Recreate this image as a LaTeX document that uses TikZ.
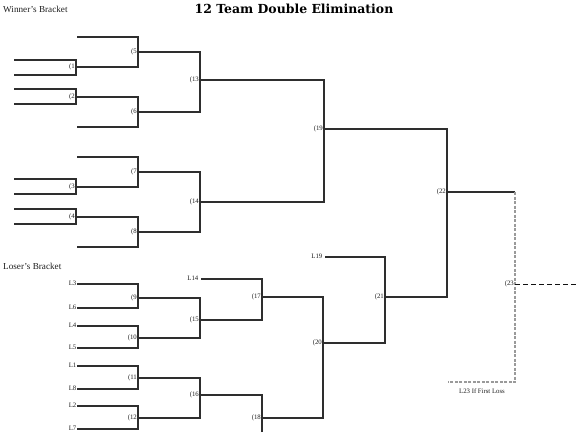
\documentclass[tikz,border=0pt]{standalone}
\usepackage{fontspec}
\usepackage{xcolor}
\setmainfont{Liberation Serif}
\newfontfamily\titleFont{DejaVu Serif}
\definecolor{lineColor}{HTML}{2E2E2E}
\definecolor{dashColor}{HTML}{9A9A9A}
\definecolor{finalColor}{HTML}{111111}
\definecolor{labelTextColor}{HTML}{1E1E1E}
\def\textTitle{12 Team Double Elimination}
\def\textWinners{Winner's Bracket}
\def\textLosers{Loser's Bracket}
\def\textFirstLoss{L23 If First Loss}
\tikzset{
  bracketLine/.style={color=lineColor, line width=1.2bp},
  dashLine/.style={color=dashColor, line width=1.2bp, dash pattern=on 3bp off 1.5bp},
  finalLine/.style={color=finalColor, line width=0.9bp, dash pattern=on 5bp off 3bp},
  gameLabel/.style={anchor=east, inner sep=0pt, xshift=-1bp, text=labelTextColor,
    font=\fontsize{6.8}{7}\selectfont},
  seedLabel/.style={anchor=east, inner sep=0pt, xshift=-0.5bp, yshift=1bp, text=labelTextColor,
    font=\fontsize{6.8}{7}\selectfont},
  headLabel/.style={anchor=west, inner sep=0pt, text=labelTextColor,
    font=\fontsize{9.2}{10}\selectfont},
}

\begin{document}
\begin{tikzpicture}[x=1bp,y=-1bp]
\useasboundingbox (0,0) rectangle (585,432);

% game points
\begin{scope}
\coordinate (g1) at (76, 67);
\coordinate (g2) at (76, 97);
\coordinate (g3) at (76, 187);
\coordinate (g4) at (76, 217);
\coordinate (g5) at (138, 52);
\coordinate (g6) at (138, 112);
\coordinate (g7) at (138, 172);
\coordinate (g8) at (138, 232);
\coordinate (g9) at (138, 298);
\coordinate (g10) at (138, 338);
\coordinate (g11) at (138, 378);
\coordinate (g12) at (138, 418);
\coordinate (g13) at (200, 80);
\coordinate (g14) at (200, 202);
\coordinate (g15) at (200, 320);
\coordinate (g16) at (200, 395);
\coordinate (g17) at (262, 297);
\coordinate (g18) at (262, 418);
\coordinate (g19) at (324, 129);
\coordinate (g20) at (323, 343);
\coordinate (g21) at (385, 297);
\coordinate (g22) at (447, 192);
\coordinate (g23) at (515, 284);
\end{scope}

% open ends
\begin{scope}
\coordinate (w1a) at (14, 60);
\coordinate (w1b) at (14, 75);
\coordinate (w2a) at (14, 89);
\coordinate (w2b) at (14, 104);
\coordinate (w3a) at (14, 179);
\coordinate (w3b) at (14, 194);
\coordinate (w4a) at (14, 209);
\coordinate (w4b) at (14, 224);
\coordinate (w5) at (77, 37);
\coordinate (w6) at (77, 127);
\coordinate (w7) at (77, 157);
\coordinate (w8) at (77, 247);
\coordinate (sL3) at (77, 284);
\coordinate (sL6) at (77, 308);
\coordinate (sL4) at (77, 326);
\coordinate (sL5) at (77, 348);
\coordinate (sL1) at (77, 366);
\coordinate (sL8) at (77, 389);
\coordinate (sL2) at (77, 406);
\coordinate (sL7) at (77, 429);
\coordinate (sL14) at (201, 279);
\coordinate (sL19) at (325, 257);
\coordinate (b18) at (262, 432);
\coordinate (c22) at (515, 192);
\coordinate (l23) at (448, 382);
\coordinate (w23) at (578, 284);
\end{scope}

% winner's bracket layer
\begin{scope}
\draw[bracketLine] (w1a) -| (g1);
\draw[bracketLine] (w1b) -| (g1);
\draw[bracketLine] (w2a) -| (g2);
\draw[bracketLine] (w2b) -| (g2);
\draw[bracketLine] (w3a) -| (g3);
\draw[bracketLine] (w3b) -| (g3);
\draw[bracketLine] (w4a) -| (g4);
\draw[bracketLine] (w4b) -| (g4);
\draw[bracketLine] (w5) -| (g5);
\draw[bracketLine] (g1) -| (g5);
\draw[bracketLine] (g2) -| (g6);
\draw[bracketLine] (w6) -| (g6);
\draw[bracketLine] (w7) -| (g7);
\draw[bracketLine] (g3) -| (g7);
\draw[bracketLine] (g4) -| (g8);
\draw[bracketLine] (w8) -| (g8);
\draw[bracketLine] (g5) -| (g13);
\draw[bracketLine] (g6) -| (g13);
\draw[bracketLine] (g7) -| (g14);
\draw[bracketLine] (g8) -| (g14);
\draw[bracketLine] (g13) -| (g19);
\draw[bracketLine] (g14) -| (g19);
\draw[bracketLine] (g19) -| (g22);
\draw[bracketLine] (g21) -| (g22);
\draw[bracketLine] (g22) -- (c22);
\end{scope}

% loser's bracket layer
\begin{scope}
\draw[bracketLine] (sL3) -| (g9);
\draw[bracketLine] (sL6) -| (g9);
\draw[bracketLine] (sL4) -| (g10);
\draw[bracketLine] (sL5) -| (g10);
\draw[bracketLine] (sL1) -| (g11);
\draw[bracketLine] (sL8) -| (g11);
\draw[bracketLine] (sL2) -| (g12);
\draw[bracketLine] (sL7) -| (g12);
\draw[bracketLine] (g9) -| (g15);
\draw[bracketLine] (g10) -| (g15);
\draw[bracketLine] (g11) -| (g16);
\draw[bracketLine] (g12) -| (g16);
\draw[bracketLine] (sL14) -| (g17);
\draw[bracketLine] (g15) -| (g17);
\draw[bracketLine] (g16) -| (g18);
\draw[bracketLine] (b18) -- (g18);
\draw[bracketLine] (g17) -| (g20);
\draw[bracketLine] (g18) -| (g20);
\draw[bracketLine] (sL19) -| (g21);
\draw[bracketLine] (g20) -| (g21);
\end{scope}

% final layer
\begin{scope}
\draw[dashLine] (c22) |- (l23);
\draw[finalLine] (g23) -- (w23);
\end{scope}

% label layer
\begin{scope}
\node[gameLabel] (n1) at (g1) {(1};
\node[gameLabel] (n2) at (g2) {(2};
\node[gameLabel] (n3) at (g3) {(3};
\node[gameLabel] (n4) at (g4) {(4};
\node[gameLabel] (n5) at (g5) {(5};
\node[gameLabel] (n6) at (g6) {(6};
\node[gameLabel] (n7) at (g7) {(7};
\node[gameLabel] (n8) at (g8) {(8};
\node[gameLabel] (n9) at (g9) {(9};
\node[gameLabel] (n10) at (g10) {(10};
\node[gameLabel] (n11) at (g11) {(11};
\node[gameLabel] (n12) at (g12) {(12};
\node[gameLabel] (n13) at (g13) {(13};
\node[gameLabel] (n14) at (g14) {(14};
\node[gameLabel] (n15) at (g15) {(15};
\node[gameLabel] (n16) at (g16) {(16};
\node[gameLabel] (n17) at (g17) {(17};
\node[gameLabel] (n18) at (g18) {(18};
\node[gameLabel] (n19) at (g19) {(19};
\node[gameLabel] (n20) at (g20) {(20};
\node[gameLabel] (n21) at (g21) {(21};
\node[gameLabel] (n22) at (g22) {(22};
\node[gameLabel] (n23) at (g23) {(23};
\node[seedLabel] (tL3) at (sL3) {L3};
\node[seedLabel] (tL6) at (sL6) {L6};
\node[seedLabel] (tL4) at (sL4) {L4};
\node[seedLabel] (tL5) at (sL5) {L5};
\node[seedLabel] (tL1) at (sL1) {L1};
\node[seedLabel] (tL8) at (sL8) {L8};
\node[seedLabel] (tL2) at (sL2) {L2};
\node[seedLabel] (tL7) at (sL7) {L7};
\node[seedLabel, xshift=-2bp] (tL14) at (sL14) {L14};
\node[seedLabel, xshift=-2bp] (tL19) at (sL19) {L19};
\node[anchor=center, inner sep=0pt, text=labelTextColor, font=\fontsize{6.8}{7}\selectfont]
  (tFirstLoss) at (482, 391) {\textFirstLoss};
\end{scope}

% heading layer
\begin{scope}
\node[anchor=center, inner sep=0pt, text=black, font=\titleFont\bfseries\fontsize{12.5}{14}\selectfont]
  (title) at (294, 9) {\textTitle};
\node[headLabel] (winners) at (3, 9) {\textWinners};
\node[headLabel] (losers) at (3, 266) {\textLosers};
\end{scope}

\end{tikzpicture}
\end{document}
